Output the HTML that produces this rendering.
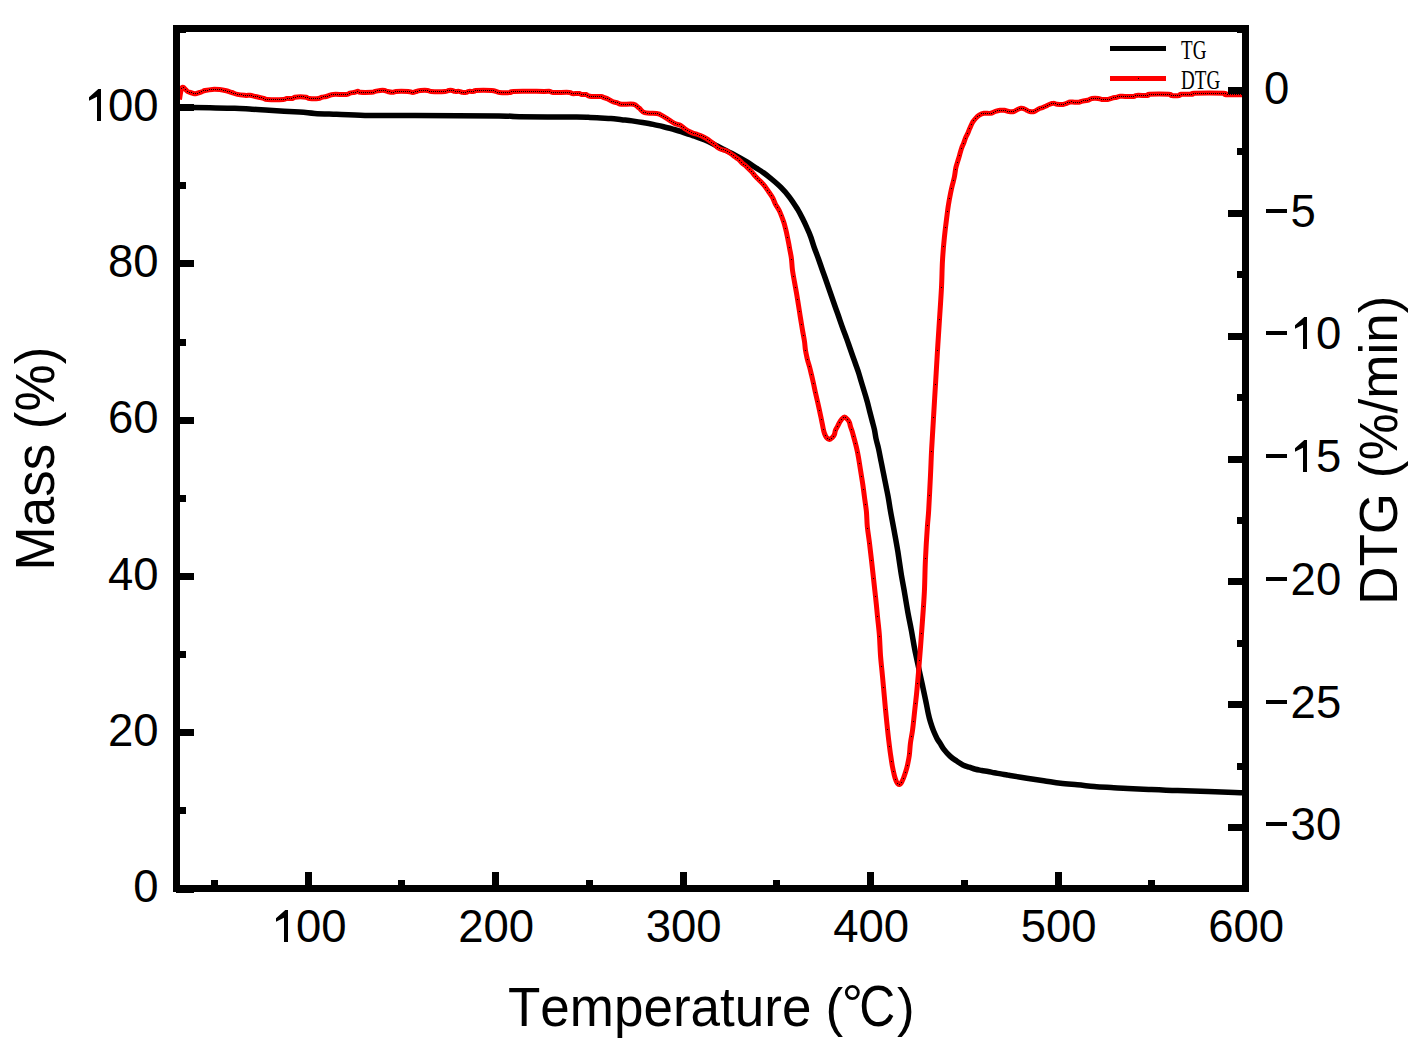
<!DOCTYPE html>
<html><head><meta charset="utf-8"><style>
html,body{margin:0;padding:0;background:#fff;}
svg{display:block;}
text{font-family:"Liberation Sans",sans-serif;fill:#000;font-kerning:none;}
</style></head><body>
<svg width="1426" height="1052" viewBox="0 0 1426 1052">
<rect width="1426" height="1052" fill="#fff"/>
<g fill="none" stroke-linejoin="round" stroke-linecap="butt">
<path d="M180.0,107.3 C182.2,107.3 188.0,107.4 193.0,107.5 C198.0,107.6 203.1,107.7 210.0,107.8 C216.9,107.9 227.7,108.0 234.7,108.2 C241.7,108.4 246.3,108.9 252.0,109.2 C257.7,109.5 261.1,109.8 269.0,110.3 C276.9,110.8 291.9,111.5 299.5,112.0 C307.1,112.5 308.5,113.0 314.7,113.4 C320.9,113.8 327.6,113.9 336.6,114.2 C345.6,114.5 358.7,115.2 368.5,115.4 C378.3,115.6 387.8,115.4 395.5,115.4 C403.2,115.4 397.8,115.5 415.0,115.6 C432.2,115.7 481.6,115.7 499.0,115.9 C516.4,116.1 506.4,116.5 519.3,116.7 C532.2,116.9 564.8,117.0 576.6,117.1 C588.4,117.2 586.0,117.2 590.0,117.4 C594.0,117.6 597.0,117.8 600.5,118.0 C604.0,118.2 607.5,118.2 611.0,118.5 C614.5,118.8 618.1,119.3 621.6,119.7 C625.1,120.1 628.6,120.4 632.1,120.9 C635.6,121.4 639.1,121.9 642.6,122.5 C646.1,123.1 649.6,123.7 653.1,124.4 C656.6,125.1 660.1,125.9 663.6,126.7 C667.1,127.5 671.3,128.7 674.2,129.5 C677.1,130.3 678.9,130.8 681.2,131.6 C683.5,132.4 686.2,133.4 688.2,134.1 C690.2,134.8 690.2,134.7 693.3,135.8 C696.4,136.9 702.1,138.9 706.6,140.8 C711.1,142.8 715.6,145.3 720.0,147.5 C724.4,149.7 728.8,151.8 733.2,154.2 C737.6,156.6 742.6,159.4 746.5,161.7 C750.4,164.0 753.6,166.3 756.5,168.2 C759.4,170.0 761.0,170.9 763.6,172.8 C766.2,174.7 769.2,177.1 772.1,179.5 C775.0,181.9 777.9,184.3 780.7,187.2 C783.6,190.1 786.4,193.1 789.2,196.8 C792.1,200.5 795.4,205.8 797.8,209.6 C800.1,213.4 801.7,216.8 803.3,219.9 C804.9,223.0 806.0,225.6 807.2,228.4 C808.5,231.2 809.6,233.7 810.8,237.0 C812.0,240.3 813.1,244.3 814.4,248.0 C815.7,251.7 817.3,255.6 818.5,259.0 C819.7,262.4 820.7,265.3 821.8,268.5 C822.9,271.7 824.1,274.8 825.2,278.0 C826.3,281.2 827.4,284.3 828.5,287.5 C829.6,290.7 830.7,293.8 831.8,297.0 C832.9,300.2 834.0,303.3 835.1,306.5 C836.2,309.7 837.4,312.8 838.5,316.0 C839.6,319.2 840.7,322.4 841.8,325.6 C842.9,328.8 844.1,331.9 845.3,335.0 C846.4,338.1 847.6,341.3 848.7,344.5 C849.8,347.7 850.9,350.8 852.0,354.0 C853.1,357.2 854.3,360.3 855.4,363.5 C856.5,366.7 857.7,369.8 858.7,373.0 C859.7,376.2 860.5,379.3 861.5,382.5 C862.5,385.7 863.4,388.8 864.4,392.0 C865.4,395.2 866.3,398.3 867.2,401.5 C868.1,404.7 868.8,407.9 869.6,411.0 C870.4,414.1 871.2,417.2 872.0,420.3 C872.8,423.4 873.7,426.4 874.4,429.5 C875.1,432.6 875.4,435.8 876.1,439.0 C876.8,442.2 877.8,445.3 878.5,448.5 C879.2,451.7 879.8,454.8 880.4,458.0 C881.0,461.2 881.7,464.3 882.3,467.5 C882.9,470.7 883.6,473.8 884.2,477.0 C884.8,480.2 885.5,483.3 886.1,486.5 C886.7,489.7 887.4,492.8 888.0,496.0 C888.6,499.2 889.1,502.4 889.6,505.6 C890.1,508.8 890.4,510.8 891.2,515.0 C892.0,519.2 893.1,524.8 894.2,530.9 C895.3,537.0 896.8,544.8 897.9,551.8 C899.0,558.8 899.9,565.7 901.0,572.7 C902.1,579.7 903.6,587.1 904.7,593.6 C905.8,600.1 906.7,605.8 907.8,612.0 C908.9,618.2 910.3,624.3 911.5,630.9 C912.7,637.5 913.5,643.1 915.2,651.8 C917.0,660.5 920.1,674.3 922.0,683.2 C923.9,692.1 925.6,699.9 926.6,705.0 C927.6,710.1 927.6,710.8 928.3,713.6 C928.9,716.5 929.6,719.2 930.5,722.1 C931.4,725.0 932.5,728.3 933.6,731.0 C934.7,733.7 935.9,736.2 937.0,738.4 C938.1,740.5 939.4,742.1 940.5,743.9 C941.6,745.7 942.3,747.3 943.9,749.4 C945.5,751.5 948.2,754.5 950.3,756.4 C952.4,758.3 954.5,759.6 956.6,761.0 C958.7,762.4 960.8,763.9 962.9,764.9 C965.0,765.9 967.1,766.5 969.2,767.2 C971.3,767.9 973.4,768.8 975.5,769.3 C977.6,769.8 979.7,770.1 981.8,770.5 C983.9,770.9 986.0,771.1 988.1,771.5 C990.2,771.9 992.3,772.4 994.4,772.8 C996.5,773.2 998.7,773.5 1000.8,773.9 C1002.9,774.3 1005.6,774.7 1007.1,775.0 C1008.6,775.3 1006.7,775.0 1010.0,775.5 C1013.3,776.0 1021.2,777.3 1026.8,778.2 C1032.4,779.1 1038.1,779.9 1043.7,780.8 C1049.3,781.6 1054.9,782.6 1060.5,783.3 C1066.1,784.0 1071.7,784.3 1077.3,784.8 C1082.9,785.3 1088.6,786.0 1094.2,786.5 C1099.8,787.0 1105.4,787.2 1111.0,787.5 C1116.6,787.8 1121.1,788.2 1127.8,788.5 C1134.5,788.8 1143.0,789.1 1151.3,789.5 C1159.6,789.9 1168.1,790.3 1177.6,790.6 C1187.1,790.9 1198.8,791.2 1208.3,791.5 C1217.8,791.8 1229.0,792.2 1234.6,792.4 C1240.2,792.6 1240.8,792.7 1242.0,792.7" stroke="#000" stroke-width="5.5"/>
<path d="M179.5,99.5 C179.8,97.7 180.8,90.5 181.5,88.5 C182.2,86.5 182.8,87.3 183.5,87.5 C184.2,87.7 184.8,88.8 185.5,89.5 C186.2,90.2 186.7,91.0 187.5,91.5 C188.3,92.0 189.5,92.2 190.5,92.5 C191.5,92.8 192.5,93.3 193.5,93.5 C194.5,93.7 195.5,93.7 196.5,93.5 C197.5,93.3 198.5,92.8 199.5,92.5 C200.5,92.2 201.6,91.8 202.5,91.5 C203.4,91.2 203.4,90.8 205.0,90.5 C206.6,90.2 209.9,89.6 212.3,89.4 C214.7,89.2 217.3,89.4 219.6,89.6 C221.9,89.8 224.2,90.3 226.3,90.8 C228.4,91.3 230.0,91.9 231.9,92.5 C233.8,93.1 235.2,93.9 237.5,94.4 C239.8,94.9 243.8,95.2 245.9,95.4 C248.0,95.6 248.4,95.1 250.0,95.3 C251.6,95.5 253.6,96.1 255.3,96.5 C257.1,96.9 259.1,97.3 260.5,97.6 C261.9,97.9 262.8,98.2 264.0,98.5 C265.2,98.8 264.3,99.2 267.5,99.4 C270.7,99.6 280.1,99.6 283.3,99.4 C286.5,99.2 285.3,98.7 286.8,98.5 C288.3,98.3 290.8,98.7 292.1,98.5 C293.4,98.3 293.3,97.6 294.7,97.3 C296.1,97.0 298.5,96.7 300.4,96.7 C302.3,96.7 304.6,97.0 306.1,97.3 C307.6,97.6 307.6,98.3 309.6,98.5 C311.7,98.7 316.3,98.7 318.4,98.5 C320.4,98.3 320.6,97.6 321.9,97.3 C323.2,97.0 324.9,96.8 326.2,96.5 C327.5,96.2 328.6,95.6 329.8,95.3 C331.0,95.0 330.5,94.6 333.3,94.4 C336.1,94.2 343.6,94.6 346.4,94.4 C349.2,94.2 348.5,93.6 349.9,93.2 C351.3,92.8 353.4,92.6 354.7,92.3 C356.0,92.0 356.9,91.2 357.8,91.2 C358.8,91.2 358.1,92.1 360.4,92.3 C362.7,92.5 369.4,92.4 371.8,92.3 C374.2,92.2 373.6,91.7 375.0,91.4 C376.4,91.1 378.7,90.7 380.3,90.5 C381.9,90.3 383.4,90.3 384.6,90.5 C385.8,90.7 386.0,91.1 387.3,91.4 C388.6,91.7 391.1,92.3 392.5,92.3 C393.9,92.3 394.5,91.6 396.0,91.4 C397.5,91.2 399.2,91.2 401.3,91.2 C403.4,91.2 406.4,91.2 408.3,91.4 C410.2,91.6 411.2,92.4 412.7,92.4 C414.2,92.4 415.8,91.5 417.1,91.2 C418.4,90.9 418.9,90.6 420.6,90.5 C422.4,90.4 425.9,90.3 427.6,90.5 C429.4,90.7 428.2,91.2 431.1,91.4 C434.0,91.6 442.2,91.6 445.1,91.4 C448.0,91.2 447.4,90.7 448.6,90.5 C449.8,90.3 451.1,90.3 452.1,90.5 C453.1,90.7 453.6,91.2 454.8,91.4 C456.0,91.6 457.8,91.2 459.1,91.4 C460.4,91.6 461.4,92.2 462.6,92.4 C463.8,92.6 465.1,92.6 466.1,92.4 C467.1,92.2 467.5,91.6 468.8,91.4 C470.1,91.2 472.8,91.6 474.0,91.4 C475.2,91.2 472.9,90.7 475.8,90.5 C478.7,90.3 488.2,90.3 491.6,90.5 C495.0,90.7 494.7,91.1 496.0,91.4 C497.3,91.7 496.9,92.2 499.4,92.4 C501.9,92.6 508.5,92.6 510.8,92.4 C513.1,92.2 507.8,91.6 513.4,91.4 C518.9,91.2 538.0,91.4 544.1,91.4 C550.2,91.4 548.8,91.2 550.2,91.4 C551.7,91.6 549.6,92.2 552.8,92.4 C556.0,92.6 566.3,92.2 569.5,92.4 C572.7,92.6 570.5,93.4 572.1,93.6 C573.7,93.8 577.5,93.4 579.1,93.6 C580.7,93.8 580.6,94.3 581.8,94.5 C583.0,94.7 585.1,94.3 586.1,94.5 C587.1,94.7 587.0,95.3 587.9,95.6 C588.8,95.9 589.2,96.3 591.4,96.5 C593.6,96.7 599.0,96.3 601.0,96.5 C603.0,96.7 602.7,97.2 603.7,97.5 C604.7,97.8 606.0,98.1 607.2,98.6 C608.4,99.1 609.7,100.0 610.7,100.6 C611.7,101.1 612.3,101.6 613.3,101.9 C614.3,102.2 615.4,102.2 616.8,102.6 C618.2,103.0 618.8,104.0 621.6,104.3 C624.4,104.6 630.6,103.7 633.5,104.3 C636.4,104.9 637.2,106.7 639.1,108.1 C641.0,109.5 641.8,111.8 644.7,112.7 C647.6,113.6 654.0,113.1 656.6,113.4 C659.2,113.7 658.4,113.6 660.1,114.5 C661.9,115.4 664.8,117.2 667.1,118.7 C669.5,120.2 672.0,122.1 674.2,123.2 C676.4,124.3 678.5,124.4 680.3,125.3 C682.0,126.2 683.2,127.6 684.7,128.6 C686.2,129.6 687.8,130.7 689.3,131.5 C690.8,132.3 692.2,132.8 693.6,133.3 C695.0,133.8 696.1,134.0 697.6,134.5 C699.1,135.0 701.1,135.7 702.6,136.4 C704.1,137.1 705.3,137.8 706.6,138.6 C707.9,139.4 709.3,140.5 710.6,141.5 C711.9,142.5 713.4,143.4 714.6,144.4 C715.8,145.4 716.4,146.7 717.6,147.5 C718.8,148.3 720.3,149.0 721.6,149.5 C722.9,150.0 724.1,149.9 725.6,150.6 C727.1,151.3 729.1,152.5 730.6,153.5 C732.1,154.5 733.3,155.6 734.6,156.6 C735.9,157.6 737.3,158.3 738.6,159.4 C739.9,160.5 741.2,162.2 742.5,163.4 C743.8,164.6 745.0,165.2 746.5,166.6 C748.0,168.0 750.0,170.0 751.5,171.6 C753.0,173.2 754.1,174.8 755.5,176.4 C756.9,178.0 758.6,179.4 760.1,181.0 C761.6,182.6 763.0,183.9 764.4,185.7 C765.8,187.4 767.1,189.5 768.5,191.5 C769.9,193.5 771.3,195.4 772.5,197.5 C773.7,199.6 774.3,202.0 775.5,204.3 C776.7,206.6 778.3,208.5 779.6,211.3 C780.9,214.2 782.5,218.6 783.5,221.4 C784.5,224.2 784.8,225.7 785.5,228.4 C786.2,231.1 786.9,234.2 787.5,237.4 C788.1,240.6 788.8,243.8 789.4,247.3 C790.0,250.8 790.9,254.6 791.4,258.3 C791.9,262.0 791.9,265.6 792.4,269.5 C792.9,273.4 793.7,277.7 794.4,281.5 C795.1,285.3 795.7,288.5 796.4,292.5 C797.1,296.5 797.8,301.2 798.5,305.4 C799.2,309.6 799.7,313.4 800.4,317.5 C801.1,321.6 801.8,326.3 802.5,330.3 C803.2,334.3 804.0,338.1 804.5,341.5 C805.0,344.9 805.0,347.4 805.5,350.4 C806.0,353.4 806.8,356.8 807.4,359.5 C808.0,362.2 808.7,363.9 809.4,366.4 C810.1,368.9 810.7,371.5 811.4,374.4 C812.1,377.2 812.8,380.5 813.5,383.5 C814.2,386.5 814.7,389.5 815.4,392.5 C816.1,395.5 816.8,398.5 817.5,401.5 C818.2,404.5 818.9,407.6 819.5,410.6 C820.1,413.6 820.8,416.6 821.4,419.4 C822.0,422.2 822.5,425.1 823.0,427.5 C823.5,429.9 823.9,431.9 824.5,433.5 C825.1,435.1 825.6,436.4 826.4,437.4 C827.2,438.4 828.3,439.5 829.3,439.5 C830.3,439.5 831.5,438.2 832.4,437.4 C833.3,436.5 834.0,435.5 834.5,434.4 C835.0,433.2 834.9,431.8 835.4,430.5 C835.9,429.2 836.8,427.9 837.5,426.5 C838.2,425.1 838.8,423.6 839.5,422.4 C840.2,421.2 840.8,420.3 841.6,419.4 C842.4,418.5 843.5,417.0 844.5,417.0 C845.5,417.0 846.7,418.5 847.5,419.4 C848.3,420.3 848.9,421.2 849.4,422.4 C849.9,423.6 850.0,424.8 850.5,426.5 C851.0,428.2 851.9,430.2 852.5,432.4 C853.1,434.6 853.7,437.0 854.4,439.5 C855.1,442.0 855.8,444.6 856.5,447.6 C857.2,450.6 857.9,453.9 858.5,457.5 C859.1,461.1 859.7,465.2 860.4,469.4 C861.1,473.6 861.8,478.0 862.5,482.5 C863.2,487.0 863.8,491.7 864.4,496.5 C865.0,501.3 865.9,506.5 866.4,511.5 C866.9,516.5 866.8,521.4 867.3,526.5 C867.8,531.6 868.7,536.9 869.4,542.4 C870.1,547.9 870.7,553.6 871.4,559.4 C872.1,565.2 872.7,571.2 873.4,577.4 C874.1,583.6 874.8,590.1 875.5,596.5 C876.2,602.9 876.8,609.0 877.4,615.5 C878.0,622.0 878.9,628.7 879.4,635.4 C879.9,642.1 880.0,648.7 880.5,655.5 C881.0,662.3 881.9,669.4 882.5,676.4 C883.1,683.4 883.8,690.3 884.4,697.3 C885.0,704.3 885.7,711.8 886.4,718.5 C887.1,725.2 887.7,731.7 888.4,737.5 C889.1,743.3 889.7,748.7 890.4,753.5 C891.1,758.3 891.7,762.7 892.4,766.4 C893.1,770.1 893.8,773.1 894.4,775.6 C895.0,778.1 895.8,780.1 896.3,781.4 C896.8,782.7 897.0,782.9 897.5,783.4 C898.0,783.9 898.9,784.7 899.5,784.6 C900.1,784.5 900.8,783.6 901.4,782.6 C902.0,781.6 902.7,780.1 903.4,778.4 C904.1,776.7 904.7,774.8 905.4,772.6 C906.1,770.5 906.8,768.4 907.4,765.5 C908.0,762.6 908.8,759.2 909.3,755.5 C909.8,751.8 909.9,747.7 910.4,743.5 C910.9,739.3 911.8,735.5 912.5,730.5 C913.2,725.5 913.8,719.4 914.4,713.5 C915.0,707.6 915.7,702.1 916.4,695.4 C917.1,688.7 917.7,681.3 918.4,673.5 C919.1,665.7 919.7,657.2 920.4,648.5 C921.1,639.8 921.7,631.0 922.4,621.5 C923.1,612.0 923.9,601.5 924.4,591.3 C924.9,581.1 924.9,571.3 925.4,560.5 C925.9,549.7 926.8,534.9 927.4,526.5 C928.0,518.1 928.2,518.6 928.7,510.0 C929.2,501.4 930.0,485.0 930.5,475.0 C931.0,465.0 931.1,459.2 931.6,450.0 C932.1,440.8 932.8,430.4 933.4,419.5 C934.0,408.6 934.8,395.9 935.5,384.4 C936.2,372.9 936.8,361.5 937.5,350.4 C938.2,339.3 938.9,328.1 939.6,317.6 C940.3,307.1 941.0,296.9 941.5,287.3 C942.0,277.8 942.0,268.6 942.5,260.3 C943.0,252.0 943.7,244.1 944.4,237.3 C945.1,230.5 945.8,224.8 946.5,219.4 C947.2,214.0 947.7,209.4 948.4,205.1 C949.1,200.8 949.8,197.0 950.5,193.5 C951.2,190.0 951.9,187.0 952.6,184.2 C953.3,181.3 954.0,179.1 954.5,176.4 C955.0,173.7 955.3,170.6 955.8,168.1 C956.3,165.6 957.1,163.6 957.7,161.4 C958.3,159.2 959.0,157.2 959.6,155.1 C960.2,152.9 960.8,150.5 961.5,148.5 C962.2,146.5 962.9,145.1 963.6,143.3 C964.3,141.6 964.8,139.7 965.5,138.0 C966.2,136.3 967.1,134.9 967.8,133.3 C968.5,131.7 968.9,130.3 969.7,128.5 C970.5,126.7 971.5,124.1 972.5,122.4 C973.5,120.8 974.3,119.8 975.4,118.6 C976.5,117.4 977.8,116.1 979.2,115.2 C980.6,114.3 982.0,113.6 983.9,113.3 C985.8,113.0 988.7,113.6 990.6,113.3 C992.5,113.0 993.7,111.9 995.3,111.4 C996.9,110.9 998.5,110.5 1000.0,110.3 C1001.5,110.1 1002.9,110.1 1004.4,110.3 C1005.9,110.5 1007.2,111.3 1008.8,111.5 C1010.4,111.7 1012.5,111.8 1014.0,111.5 C1015.5,111.2 1016.3,110.0 1017.5,109.5 C1018.7,109.0 1020.0,108.5 1021.0,108.3 C1022.0,108.1 1022.8,108.3 1023.7,108.6 C1024.6,108.9 1025.3,109.4 1026.3,109.9 C1027.3,110.4 1028.5,111.2 1029.8,111.5 C1031.1,111.8 1032.7,111.9 1034.2,111.5 C1035.7,111.1 1037.3,109.6 1038.6,109.0 C1039.9,108.4 1040.9,108.2 1042.1,107.7 C1043.3,107.2 1044.4,106.7 1045.6,106.2 C1046.8,105.7 1047.8,105.0 1049.1,104.5 C1050.4,104.0 1052.2,103.3 1053.5,103.3 C1054.8,103.2 1055.4,104.0 1057.0,104.2 C1058.6,104.4 1061.5,104.7 1063.1,104.5 C1064.7,104.3 1065.4,103.7 1066.6,103.3 C1067.8,102.9 1068.8,102.2 1070.1,102.0 C1071.4,101.8 1073.0,102.2 1074.5,102.2 C1076.0,102.2 1077.6,102.4 1078.9,102.2 C1080.2,102.0 1081.0,101.4 1082.4,101.1 C1083.9,100.8 1086.0,100.7 1087.6,100.3 C1089.2,99.9 1090.2,98.8 1092.0,98.5 C1093.8,98.2 1096.6,98.3 1098.2,98.5 C1099.8,98.7 1100.1,99.2 1101.7,99.4 C1103.3,99.6 1106.0,99.6 1107.8,99.4 C1109.5,99.2 1110.7,98.5 1112.2,98.1 C1113.7,97.7 1115.3,97.5 1116.6,97.2 C1117.9,96.9 1118.7,96.4 1120.1,96.3 C1121.5,96.2 1122.7,96.4 1125.0,96.4 C1127.3,96.4 1131.9,96.6 1133.8,96.4 C1135.7,96.2 1134.1,95.6 1136.4,95.4 C1138.7,95.2 1145.6,95.6 1147.8,95.4 C1150.0,95.2 1146.0,94.4 1149.5,94.2 C1153.0,94.0 1165.1,94.0 1168.8,94.2 C1172.5,94.4 1169.8,95.2 1171.5,95.4 C1173.2,95.6 1177.7,95.6 1179.3,95.4 C1180.9,95.2 1178.9,94.4 1181.1,94.2 C1183.3,94.0 1190.3,94.4 1192.5,94.2 C1194.7,94.0 1189.0,93.5 1194.2,93.3 C1199.5,93.1 1218.7,93.1 1224.0,93.3 C1229.3,93.5 1222.8,94.5 1225.8,94.7 C1228.8,94.9 1239.3,94.7 1242.0,94.7" stroke="#f00" stroke-width="5.0"/>
</g>
<g fill="#000"><rect x="181" y="88" width="1" height="1"/><rect x="183" y="87" width="1" height="1"/><rect x="185" y="89" width="1" height="1"/><rect x="187" y="91" width="1" height="1"/><rect x="189" y="92" width="1" height="1"/><rect x="191" y="92" width="1" height="1"/><rect x="193" y="93" width="1" height="1"/><rect x="195" y="93" width="1" height="1"/><rect x="197" y="93" width="1" height="1"/><rect x="199" y="92" width="1" height="1"/><rect x="201" y="91" width="1" height="1"/><rect x="203" y="90" width="1" height="1"/><rect x="205" y="90" width="1" height="1"/><rect x="207" y="90" width="1" height="1"/><rect x="209" y="89" width="1" height="1"/><rect x="211" y="89" width="1" height="1"/><rect x="213" y="89" width="1" height="1"/><rect x="215" y="89" width="1" height="1"/><rect x="217" y="89" width="1" height="1"/><rect x="219" y="89" width="1" height="1"/><rect x="221" y="89" width="1" height="1"/><rect x="223" y="90" width="1" height="1"/><rect x="225" y="90" width="1" height="1"/><rect x="227" y="91" width="1" height="1"/><rect x="229" y="91" width="1" height="1"/><rect x="231" y="92" width="1" height="1"/><rect x="233" y="93" width="1" height="1"/><rect x="235" y="93" width="1" height="1"/><rect x="237" y="94" width="1" height="1"/><rect x="239" y="94" width="1" height="1"/><rect x="241" y="94" width="1" height="1"/><rect x="243" y="95" width="1" height="1"/><rect x="245" y="95" width="1" height="1"/><rect x="247" y="95" width="1" height="1"/><rect x="249" y="95" width="1" height="1"/><rect x="251" y="95" width="1" height="1"/><rect x="253" y="96" width="1" height="1"/><rect x="255" y="96" width="1" height="1"/><rect x="257" y="96" width="1" height="1"/><rect x="259" y="97" width="1" height="1"/><rect x="261" y="97" width="1" height="1"/><rect x="263" y="98" width="1" height="1"/><rect x="265" y="99" width="1" height="1"/><rect x="267" y="99" width="1" height="1"/><rect x="269" y="99" width="1" height="1"/><rect x="271" y="99" width="1" height="1"/><rect x="273" y="99" width="1" height="1"/><rect x="275" y="99" width="1" height="1"/><rect x="277" y="99" width="1" height="1"/><rect x="279" y="99" width="1" height="1"/><rect x="281" y="99" width="1" height="1"/><rect x="283" y="99" width="1" height="1"/><rect x="285" y="99" width="1" height="1"/><rect x="287" y="98" width="1" height="1"/><rect x="289" y="98" width="1" height="1"/><rect x="291" y="98" width="1" height="1"/><rect x="293" y="97" width="1" height="1"/><rect x="295" y="97" width="1" height="1"/><rect x="297" y="96" width="1" height="1"/><rect x="299" y="96" width="1" height="1"/><rect x="301" y="96" width="1" height="1"/><rect x="303" y="96" width="1" height="1"/><rect x="305" y="97" width="1" height="1"/><rect x="307" y="97" width="1" height="1"/><rect x="309" y="98" width="1" height="1"/><rect x="311" y="98" width="1" height="1"/><rect x="313" y="98" width="1" height="1"/><rect x="315" y="98" width="1" height="1"/><rect x="317" y="98" width="1" height="1"/><rect x="319" y="98" width="1" height="1"/><rect x="321" y="97" width="1" height="1"/><rect x="323" y="96" width="1" height="1"/><rect x="325" y="96" width="1" height="1"/><rect x="327" y="96" width="1" height="1"/><rect x="329" y="95" width="1" height="1"/><rect x="331" y="94" width="1" height="1"/><rect x="333" y="94" width="1" height="1"/><rect x="335" y="94" width="1" height="1"/><rect x="337" y="94" width="1" height="1"/><rect x="339" y="94" width="1" height="1"/><rect x="341" y="94" width="1" height="1"/><rect x="343" y="94" width="1" height="1"/><rect x="345" y="94" width="1" height="1"/><rect x="347" y="94" width="1" height="1"/><rect x="349" y="93" width="1" height="1"/><rect x="351" y="92" width="1" height="1"/><rect x="353" y="92" width="1" height="1"/><rect x="355" y="92" width="1" height="1"/><rect x="357" y="91" width="1" height="1"/><rect x="359" y="92" width="1" height="1"/><rect x="361" y="92" width="1" height="1"/><rect x="363" y="92" width="1" height="1"/><rect x="365" y="92" width="1" height="1"/><rect x="367" y="92" width="1" height="1"/><rect x="369" y="92" width="1" height="1"/><rect x="371" y="92" width="1" height="1"/><rect x="373" y="92" width="1" height="1"/><rect x="375" y="91" width="1" height="1"/><rect x="377" y="90" width="1" height="1"/><rect x="379" y="90" width="1" height="1"/><rect x="381" y="90" width="1" height="1"/><rect x="383" y="90" width="1" height="1"/><rect x="385" y="90" width="1" height="1"/><rect x="387" y="91" width="1" height="1"/><rect x="389" y="91" width="1" height="1"/><rect x="391" y="92" width="1" height="1"/><rect x="393" y="92" width="1" height="1"/><rect x="395" y="91" width="1" height="1"/><rect x="397" y="91" width="1" height="1"/><rect x="399" y="91" width="1" height="1"/><rect x="401" y="91" width="1" height="1"/><rect x="403" y="91" width="1" height="1"/><rect x="405" y="91" width="1" height="1"/><rect x="407" y="91" width="1" height="1"/><rect x="409" y="91" width="1" height="1"/><rect x="411" y="92" width="1" height="1"/><rect x="413" y="92" width="1" height="1"/><rect x="415" y="91" width="1" height="1"/><rect x="417" y="91" width="1" height="1"/><rect x="419" y="90" width="1" height="1"/><rect x="421" y="90" width="1" height="1"/><rect x="423" y="90" width="1" height="1"/><rect x="425" y="90" width="1" height="1"/><rect x="427" y="90" width="1" height="1"/><rect x="429" y="91" width="1" height="1"/><rect x="431" y="91" width="1" height="1"/><rect x="433" y="91" width="1" height="1"/><rect x="435" y="91" width="1" height="1"/><rect x="437" y="91" width="1" height="1"/><rect x="439" y="91" width="1" height="1"/><rect x="441" y="91" width="1" height="1"/><rect x="443" y="91" width="1" height="1"/><rect x="445" y="91" width="1" height="1"/><rect x="447" y="90" width="1" height="1"/><rect x="449" y="90" width="1" height="1"/><rect x="451" y="90" width="1" height="1"/><rect x="453" y="90" width="1" height="1"/><rect x="455" y="91" width="1" height="1"/><rect x="457" y="91" width="1" height="1"/><rect x="459" y="91" width="1" height="1"/><rect x="461" y="92" width="1" height="1"/><rect x="463" y="92" width="1" height="1"/><rect x="465" y="92" width="1" height="1"/><rect x="467" y="91" width="1" height="1"/><rect x="469" y="91" width="1" height="1"/><rect x="471" y="91" width="1" height="1"/><rect x="473" y="91" width="1" height="1"/><rect x="475" y="90" width="1" height="1"/><rect x="477" y="90" width="1" height="1"/><rect x="479" y="90" width="1" height="1"/><rect x="481" y="90" width="1" height="1"/><rect x="483" y="90" width="1" height="1"/><rect x="485" y="90" width="1" height="1"/><rect x="487" y="90" width="1" height="1"/><rect x="489" y="90" width="1" height="1"/><rect x="491" y="90" width="1" height="1"/><rect x="493" y="90" width="1" height="1"/><rect x="495" y="91" width="1" height="1"/><rect x="497" y="92" width="1" height="1"/><rect x="499" y="92" width="1" height="1"/><rect x="501" y="92" width="1" height="1"/><rect x="503" y="92" width="1" height="1"/><rect x="505" y="92" width="1" height="1"/><rect x="507" y="92" width="1" height="1"/><rect x="509" y="92" width="1" height="1"/><rect x="511" y="91" width="1" height="1"/><rect x="513" y="91" width="1" height="1"/><rect x="515" y="91" width="1" height="1"/><rect x="517" y="91" width="1" height="1"/><rect x="519" y="91" width="1" height="1"/><rect x="521" y="91" width="1" height="1"/><rect x="523" y="91" width="1" height="1"/><rect x="525" y="91" width="1" height="1"/><rect x="527" y="91" width="1" height="1"/><rect x="529" y="91" width="1" height="1"/><rect x="531" y="91" width="1" height="1"/><rect x="533" y="91" width="1" height="1"/><rect x="535" y="91" width="1" height="1"/><rect x="537" y="91" width="1" height="1"/><rect x="539" y="91" width="1" height="1"/><rect x="541" y="91" width="1" height="1"/><rect x="543" y="91" width="1" height="1"/><rect x="545" y="91" width="1" height="1"/><rect x="547" y="91" width="1" height="1"/><rect x="549" y="91" width="1" height="1"/><rect x="551" y="92" width="1" height="1"/><rect x="553" y="92" width="1" height="1"/><rect x="555" y="92" width="1" height="1"/><rect x="557" y="92" width="1" height="1"/><rect x="559" y="92" width="1" height="1"/><rect x="561" y="92" width="1" height="1"/><rect x="563" y="92" width="1" height="1"/><rect x="565" y="92" width="1" height="1"/><rect x="567" y="92" width="1" height="1"/><rect x="569" y="92" width="1" height="1"/><rect x="571" y="93" width="1" height="1"/><rect x="573" y="93" width="1" height="1"/><rect x="575" y="93" width="1" height="1"/><rect x="577" y="93" width="1" height="1"/><rect x="579" y="93" width="1" height="1"/><rect x="581" y="94" width="1" height="1"/><rect x="583" y="94" width="1" height="1"/><rect x="585" y="94" width="1" height="1"/><rect x="587" y="95" width="1" height="1"/><rect x="589" y="96" width="1" height="1"/><rect x="591" y="96" width="1" height="1"/><rect x="593" y="96" width="1" height="1"/><rect x="595" y="96" width="1" height="1"/><rect x="597" y="96" width="1" height="1"/><rect x="599" y="96" width="1" height="1"/><rect x="601" y="96" width="1" height="1"/><rect x="603" y="97" width="1" height="1"/><rect x="605" y="98" width="1" height="1"/><rect x="607" y="98" width="1" height="1"/><rect x="609" y="99" width="1" height="1"/><rect x="611" y="101" width="1" height="1"/><rect x="613" y="101" width="1" height="1"/><rect x="615" y="102" width="1" height="1"/><rect x="617" y="102" width="1" height="1"/><rect x="619" y="103" width="1" height="1"/><rect x="621" y="104" width="1" height="1"/><rect x="623" y="104" width="1" height="1"/><rect x="625" y="104" width="1" height="1"/><rect x="627" y="104" width="1" height="1"/><rect x="629" y="104" width="1" height="1"/><rect x="631" y="104" width="1" height="1"/><rect x="633" y="104" width="1" height="1"/><rect x="635" y="105" width="1" height="1"/><rect x="637" y="106" width="1" height="1"/><rect x="639" y="108" width="1" height="1"/><rect x="641" y="110" width="1" height="1"/><rect x="643" y="112" width="1" height="1"/><rect x="645" y="112" width="1" height="1"/><rect x="647" y="113" width="1" height="1"/><rect x="649" y="113" width="1" height="1"/><rect x="651" y="113" width="1" height="1"/><rect x="653" y="113" width="1" height="1"/><rect x="655" y="113" width="1" height="1"/><rect x="657" y="113" width="1" height="1"/><rect x="659" y="114" width="1" height="1"/><rect x="661" y="115" width="1" height="1"/><rect x="663" y="116" width="1" height="1"/><rect x="665" y="117" width="1" height="1"/><rect x="667" y="118" width="1" height="1"/><rect x="669" y="120" width="1" height="1"/><rect x="671" y="121" width="1" height="1"/><rect x="673" y="122" width="1" height="1"/><rect x="675" y="123" width="1" height="1"/><rect x="677" y="124" width="1" height="1"/><rect x="679" y="124" width="1" height="1"/><rect x="681" y="126" width="1" height="1"/><rect x="683" y="127" width="1" height="1"/><rect x="685" y="129" width="1" height="1"/><rect x="687" y="130" width="1" height="1"/><rect x="689" y="131" width="1" height="1"/><rect x="691" y="132" width="1" height="1"/><rect x="693" y="133" width="1" height="1"/><rect x="695" y="133" width="1" height="1"/><rect x="697" y="134" width="1" height="1"/><rect x="699" y="135" width="1" height="1"/><rect x="701" y="135" width="1" height="1"/><rect x="703" y="136" width="1" height="1"/><rect x="705" y="137" width="1" height="1"/><rect x="707" y="139" width="1" height="1"/><rect x="709" y="140" width="1" height="1"/><rect x="711" y="142" width="1" height="1"/><rect x="713" y="143" width="1" height="1"/><rect x="715" y="145" width="1" height="1"/><rect x="717" y="147" width="1" height="1"/><rect x="719" y="148" width="1" height="1"/><rect x="721" y="149" width="1" height="1"/><rect x="723" y="149" width="1" height="1"/><rect x="725" y="150" width="1" height="1"/><rect x="727" y="151" width="1" height="1"/><rect x="729" y="152" width="1" height="1"/><rect x="731" y="154" width="1" height="1"/><rect x="733" y="155" width="1" height="1"/><rect x="735" y="157" width="1" height="1"/><rect x="737" y="158" width="1" height="1"/><rect x="739" y="160" width="1" height="1"/><rect x="741" y="162" width="1" height="1"/><rect x="743" y="164" width="1" height="1"/><rect x="745" y="165" width="1" height="1"/><rect x="747" y="167" width="1" height="1"/><rect x="749" y="169" width="1" height="1"/><rect x="751" y="171" width="1" height="1"/><rect x="753" y="173" width="1" height="1"/><rect x="755" y="176" width="1" height="1"/><rect x="757" y="178" width="1" height="1"/><rect x="759" y="180" width="1" height="1"/><rect x="761" y="182" width="1" height="1"/><rect x="763" y="184" width="1" height="1"/><rect x="765" y="187" width="1" height="1"/><rect x="767" y="190" width="1" height="1"/><rect x="769" y="192" width="1" height="1"/><rect x="771" y="195" width="1" height="1"/><rect x="773" y="199" width="1" height="1"/><rect x="775" y="204" width="1" height="1"/><rect x="777" y="207" width="1" height="1"/><rect x="779" y="211" width="1" height="1"/><rect x="781" y="215" width="1" height="1"/><rect x="783" y="221" width="1" height="1"/><rect x="785" y="228" width="1" height="1"/><rect x="787" y="237" width="1" height="1"/><rect x="789" y="247" width="1" height="1"/><rect x="791" y="259" width="1" height="1"/><rect x="793" y="276" width="1" height="1"/><rect x="795" y="287" width="1" height="1"/><rect x="797" y="299" width="1" height="1"/><rect x="799" y="311" width="1" height="1"/><rect x="801" y="324" width="1" height="1"/><rect x="803" y="335" width="1" height="1"/><rect x="805" y="350" width="1" height="1"/><rect x="807" y="359" width="1" height="1"/><rect x="809" y="366" width="1" height="1"/><rect x="811" y="374" width="1" height="1"/><rect x="813" y="383" width="1" height="1"/><rect x="815" y="392" width="1" height="1"/><rect x="817" y="401" width="1" height="1"/><rect x="819" y="410" width="1" height="1"/><rect x="821" y="419" width="1" height="1"/><rect x="823" y="429" width="1" height="1"/><rect x="825" y="435" width="1" height="1"/><rect x="827" y="438" width="1" height="1"/><rect x="829" y="439" width="1" height="1"/><rect x="831" y="438" width="1" height="1"/><rect x="833" y="436" width="1" height="1"/><rect x="835" y="430" width="1" height="1"/><rect x="837" y="426" width="1" height="1"/><rect x="839" y="422" width="1" height="1"/><rect x="841" y="419" width="1" height="1"/><rect x="843" y="417" width="1" height="1"/><rect x="845" y="417" width="1" height="1"/><rect x="847" y="419" width="1" height="1"/><rect x="849" y="422" width="1" height="1"/><rect x="851" y="429" width="1" height="1"/><rect x="853" y="436" width="1" height="1"/><rect x="855" y="443" width="1" height="1"/><rect x="857" y="452" width="1" height="1"/><rect x="859" y="463" width="1" height="1"/><rect x="861" y="476" width="1" height="1"/><rect x="863" y="489" width="1" height="1"/><rect x="865" y="504" width="1" height="1"/><rect x="867" y="528" width="1" height="1"/><rect x="869" y="543" width="1" height="1"/><rect x="871" y="560" width="1" height="1"/><rect x="873" y="578" width="1" height="1"/><rect x="875" y="596" width="1" height="1"/><rect x="877" y="616" width="1" height="1"/><rect x="879" y="636" width="1" height="1"/><rect x="881" y="666" width="1" height="1"/><rect x="883" y="687" width="1" height="1"/><rect x="885" y="709" width="1" height="1"/><rect x="887" y="729" width="1" height="1"/><rect x="889" y="746" width="1" height="1"/><rect x="891" y="761" width="1" height="1"/><rect x="893" y="771" width="1" height="1"/><rect x="895" y="779" width="1" height="1"/><rect x="897" y="783" width="1" height="1"/><rect x="899" y="784" width="1" height="1"/><rect x="901" y="782" width="1" height="1"/><rect x="903" y="778" width="1" height="1"/><rect x="905" y="772" width="1" height="1"/><rect x="907" y="765" width="1" height="1"/><rect x="909" y="753" width="1" height="1"/><rect x="911" y="736" width="1" height="1"/><rect x="913" y="721" width="1" height="1"/><rect x="915" y="703" width="1" height="1"/><rect x="917" y="683" width="1" height="1"/><rect x="919" y="660" width="1" height="1"/><rect x="921" y="633" width="1" height="1"/><rect x="923" y="606" width="1" height="1"/><rect x="925" y="558" width="1" height="1"/><rect x="927" y="525" width="1" height="1"/><rect x="929" y="495" width="1" height="1"/><rect x="931" y="451" width="1" height="1"/><rect x="933" y="417" width="1" height="1"/><rect x="935" y="384" width="1" height="1"/><rect x="937" y="350" width="1" height="1"/><rect x="939" y="319" width="1" height="1"/><rect x="941" y="287" width="1" height="1"/><rect x="943" y="246" width="1" height="1"/><rect x="945" y="227" width="1" height="1"/><rect x="947" y="211" width="1" height="1"/><rect x="949" y="198" width="1" height="1"/><rect x="951" y="188" width="1" height="1"/><rect x="953" y="180" width="1" height="1"/><rect x="955" y="169" width="1" height="1"/><rect x="957" y="162" width="1" height="1"/><rect x="959" y="155" width="1" height="1"/><rect x="961" y="148" width="1" height="1"/><rect x="963" y="143" width="1" height="1"/><rect x="965" y="138" width="1" height="1"/><rect x="967" y="133" width="1" height="1"/><rect x="969" y="128" width="1" height="1"/><rect x="971" y="124" width="1" height="1"/><rect x="973" y="120" width="1" height="1"/><rect x="975" y="118" width="1" height="1"/><rect x="977" y="116" width="1" height="1"/><rect x="979" y="115" width="1" height="1"/><rect x="981" y="113" width="1" height="1"/><rect x="983" y="113" width="1" height="1"/><rect x="985" y="113" width="1" height="1"/><rect x="987" y="113" width="1" height="1"/><rect x="989" y="113" width="1" height="1"/><rect x="991" y="113" width="1" height="1"/><rect x="993" y="112" width="1" height="1"/><rect x="995" y="111" width="1" height="1"/><rect x="997" y="110" width="1" height="1"/><rect x="999" y="110" width="1" height="1"/><rect x="1001" y="110" width="1" height="1"/><rect x="1003" y="110" width="1" height="1"/><rect x="1005" y="110" width="1" height="1"/><rect x="1007" y="111" width="1" height="1"/><rect x="1009" y="111" width="1" height="1"/><rect x="1011" y="111" width="1" height="1"/><rect x="1013" y="111" width="1" height="1"/><rect x="1015" y="110" width="1" height="1"/><rect x="1017" y="109" width="1" height="1"/><rect x="1019" y="108" width="1" height="1"/><rect x="1021" y="108" width="1" height="1"/><rect x="1023" y="108" width="1" height="1"/><rect x="1025" y="109" width="1" height="1"/><rect x="1027" y="110" width="1" height="1"/><rect x="1029" y="111" width="1" height="1"/><rect x="1031" y="111" width="1" height="1"/><rect x="1033" y="111" width="1" height="1"/><rect x="1035" y="110" width="1" height="1"/><rect x="1037" y="109" width="1" height="1"/><rect x="1039" y="108" width="1" height="1"/><rect x="1041" y="107" width="1" height="1"/><rect x="1043" y="107" width="1" height="1"/><rect x="1045" y="106" width="1" height="1"/><rect x="1047" y="105" width="1" height="1"/><rect x="1049" y="104" width="1" height="1"/><rect x="1051" y="103" width="1" height="1"/><rect x="1053" y="103" width="1" height="1"/><rect x="1055" y="103" width="1" height="1"/><rect x="1057" y="104" width="1" height="1"/><rect x="1059" y="104" width="1" height="1"/><rect x="1061" y="104" width="1" height="1"/><rect x="1063" y="104" width="1" height="1"/><rect x="1065" y="103" width="1" height="1"/><rect x="1067" y="102" width="1" height="1"/><rect x="1069" y="102" width="1" height="1"/><rect x="1071" y="101" width="1" height="1"/><rect x="1073" y="102" width="1" height="1"/><rect x="1075" y="102" width="1" height="1"/><rect x="1077" y="102" width="1" height="1"/><rect x="1079" y="102" width="1" height="1"/><rect x="1081" y="101" width="1" height="1"/><rect x="1083" y="100" width="1" height="1"/><rect x="1085" y="100" width="1" height="1"/><rect x="1087" y="100" width="1" height="1"/><rect x="1089" y="99" width="1" height="1"/><rect x="1091" y="98" width="1" height="1"/><rect x="1093" y="98" width="1" height="1"/><rect x="1095" y="98" width="1" height="1"/><rect x="1097" y="98" width="1" height="1"/><rect x="1099" y="98" width="1" height="1"/><rect x="1101" y="99" width="1" height="1"/><rect x="1103" y="99" width="1" height="1"/><rect x="1105" y="99" width="1" height="1"/><rect x="1107" y="99" width="1" height="1"/><rect x="1109" y="99" width="1" height="1"/><rect x="1111" y="98" width="1" height="1"/><rect x="1113" y="97" width="1" height="1"/><rect x="1115" y="97" width="1" height="1"/><rect x="1117" y="96" width="1" height="1"/><rect x="1119" y="96" width="1" height="1"/><rect x="1121" y="96" width="1" height="1"/><rect x="1123" y="96" width="1" height="1"/><rect x="1125" y="96" width="1" height="1"/><rect x="1127" y="96" width="1" height="1"/><rect x="1129" y="96" width="1" height="1"/><rect x="1131" y="96" width="1" height="1"/><rect x="1133" y="96" width="1" height="1"/><rect x="1135" y="95" width="1" height="1"/><rect x="1137" y="95" width="1" height="1"/><rect x="1139" y="95" width="1" height="1"/><rect x="1141" y="95" width="1" height="1"/><rect x="1143" y="95" width="1" height="1"/><rect x="1145" y="95" width="1" height="1"/><rect x="1147" y="95" width="1" height="1"/><rect x="1149" y="94" width="1" height="1"/><rect x="1151" y="94" width="1" height="1"/><rect x="1153" y="94" width="1" height="1"/><rect x="1155" y="94" width="1" height="1"/><rect x="1157" y="94" width="1" height="1"/><rect x="1159" y="94" width="1" height="1"/><rect x="1161" y="94" width="1" height="1"/><rect x="1163" y="94" width="1" height="1"/><rect x="1165" y="94" width="1" height="1"/><rect x="1167" y="94" width="1" height="1"/><rect x="1169" y="94" width="1" height="1"/><rect x="1171" y="95" width="1" height="1"/><rect x="1173" y="95" width="1" height="1"/><rect x="1175" y="95" width="1" height="1"/><rect x="1177" y="95" width="1" height="1"/><rect x="1179" y="95" width="1" height="1"/><rect x="1181" y="94" width="1" height="1"/><rect x="1183" y="94" width="1" height="1"/><rect x="1185" y="94" width="1" height="1"/><rect x="1187" y="94" width="1" height="1"/><rect x="1189" y="94" width="1" height="1"/><rect x="1191" y="94" width="1" height="1"/><rect x="1193" y="93" width="1" height="1"/><rect x="1195" y="93" width="1" height="1"/><rect x="1197" y="93" width="1" height="1"/><rect x="1199" y="93" width="1" height="1"/><rect x="1201" y="93" width="1" height="1"/><rect x="1203" y="93" width="1" height="1"/><rect x="1205" y="93" width="1" height="1"/><rect x="1207" y="93" width="1" height="1"/><rect x="1209" y="93" width="1" height="1"/><rect x="1211" y="93" width="1" height="1"/><rect x="1213" y="93" width="1" height="1"/><rect x="1215" y="93" width="1" height="1"/><rect x="1217" y="93" width="1" height="1"/><rect x="1219" y="93" width="1" height="1"/><rect x="1221" y="93" width="1" height="1"/><rect x="1223" y="93" width="1" height="1"/><rect x="1225" y="93" width="1" height="1"/><rect x="1227" y="94" width="1" height="1"/><rect x="1229" y="94" width="1" height="1"/><rect x="1231" y="94" width="1" height="1"/><rect x="1233" y="94" width="1" height="1"/><rect x="1235" y="94" width="1" height="1"/><rect x="1237" y="94" width="1" height="1"/><rect x="1239" y="94" width="1" height="1"/><rect x="1241" y="94" width="1" height="1"/></g>
<rect x="176.5" y="28.5" width="1069.0" height="860.0" fill="none" stroke="#000" stroke-width="7"/>
<g fill="#000">
<rect x="305" y="872" width="7" height="16"/>
<rect x="492" y="872" width="7" height="16"/>
<rect x="680" y="872" width="7" height="16"/>
<rect x="867" y="872" width="7" height="16"/>
<rect x="1055" y="872" width="7" height="16"/>
<rect x="211" y="880" width="7" height="8"/>
<rect x="398" y="880" width="7" height="8"/>
<rect x="586" y="880" width="7" height="8"/>
<rect x="773" y="880" width="7" height="8"/>
<rect x="961" y="880" width="7" height="8"/>
<rect x="1148" y="880" width="7" height="8"/>
<rect x="176" y="886" width="18" height="7"/>
<rect x="176" y="729" width="18" height="7"/>
<rect x="176" y="573" width="18" height="7"/>
<rect x="176" y="417" width="18" height="7"/>
<rect x="176" y="260" width="18" height="7"/>
<rect x="176" y="104" width="18" height="7"/>
<rect x="176" y="807" width="10" height="7"/>
<rect x="176" y="651" width="10" height="7"/>
<rect x="176" y="495" width="10" height="7"/>
<rect x="176" y="339" width="10" height="7"/>
<rect x="176" y="182" width="10" height="7"/>
<rect x="176" y="26" width="10" height="7"/>
<rect x="1237" y="26" width="9" height="7"/>
<rect x="1228" y="87" width="18" height="7"/>
<rect x="1237" y="148" width="9" height="7"/>
<rect x="1228" y="210" width="18" height="7"/>
<rect x="1237" y="271" width="9" height="7"/>
<rect x="1228" y="333" width="18" height="7"/>
<rect x="1237" y="394" width="9" height="7"/>
<rect x="1228" y="456" width="18" height="7"/>
<rect x="1237" y="517" width="9" height="7"/>
<rect x="1228" y="578" width="18" height="7"/>
<rect x="1237" y="640" width="9" height="7"/>
<rect x="1228" y="701" width="18" height="7"/>
<rect x="1237" y="763" width="9" height="7"/>
<rect x="1228" y="824" width="18" height="7"/>
</g>
<g font-size="45.5">
<text x="308.6" y="942.0" text-anchor="middle"><tspan fill="transparent">1</tspan>00</text>
<text x="496.1" y="942.0" text-anchor="middle">200</text>
<text x="683.6" y="942.0" text-anchor="middle">300</text>
<text x="871.1" y="942.0" text-anchor="middle">400</text>
<text x="1058.6" y="942.0" text-anchor="middle">500</text>
<text x="1246.1" y="942.0" text-anchor="middle">600</text>
<path transform="translate(276,910)" d="M9.3,0L12,0L12,32L8,32L8,7.8L0,11.8L0,8.2Z"/>
<text x="158.5" y="901.7" text-anchor="end">0</text>
<text x="158.5" y="746.4" text-anchor="end">20</text>
<text x="158.5" y="590.1" text-anchor="end">40</text>
<text x="158.5" y="432.8" text-anchor="end">60</text>
<text x="158.5" y="276.5" text-anchor="end">80</text>
<text x="158.5" y="121.2" text-anchor="end"><tspan fill="transparent">1</tspan>00</text>
<path transform="translate(89,89)" d="M9.3,0L12,0L12,32L8,32L8,7.8L0,11.8L0,8.2Z"/>
<text x="1264.0" y="103.7" text-anchor="start">0</text>
<text x="1264.0" y="226.5" text-anchor="start"><tspan fill="transparent">−</tspan>5</text>
<rect x="1266" y="209" width="21" height="4"/>
<text x="1264.0" y="349.3" text-anchor="start"><tspan fill="transparent">−</tspan><tspan fill="transparent">1</tspan>0</text>
<rect x="1266" y="331" width="21" height="4"/>
<text x="1264.0" y="472.0" text-anchor="start"><tspan fill="transparent">−</tspan><tspan fill="transparent">1</tspan>5</text>
<rect x="1266" y="454" width="21" height="4"/>
<text x="1264.0" y="594.8" text-anchor="start"><tspan fill="transparent">−</tspan>20</text>
<rect x="1266" y="577" width="21" height="4"/>
<text x="1264.0" y="717.6" text-anchor="start"><tspan fill="transparent">−</tspan>25</text>
<rect x="1266" y="700" width="21" height="4"/>
<text x="1264.0" y="840.4" text-anchor="start"><tspan fill="transparent">−</tspan>30</text>
<rect x="1266" y="822" width="21" height="4"/>
<path transform="translate(1295,317)" d="M9.3,0L12,0L12,32L8,32L8,7.8L0,11.8L0,8.2Z"/>
<path transform="translate(1295,440)" d="M9.3,0L12,0L12,32L8,32L8,7.8L0,11.8L0,8.2Z"/>
</g>
<g font-size="53">
<text transform="translate(508,1025.5) scale(1,1.03)">Temperature</text>
<text x="825.4" y="1026">(</text>
<text x="841.7" y="1022.5">°</text>
<text transform="translate(859.2,1026.4) scale(0.94,1.077)">C</text>
<text x="897" y="1026">)</text>
</g>
<text transform="translate(54,458.6) rotate(-90) scale(1,1.03)" font-size="53" text-anchor="middle">Mass (%)</text>
<text transform="translate(1396.8,450.25) rotate(-90) scale(1,1.024)" font-size="53" text-anchor="middle">DTG (%/min)</text>
<rect x="1110" y="46" width="56" height="5" fill="#000"/>
<rect x="1110" y="76" width="56" height="5" fill="#f00"/>
<rect x="1138" y="78" width="1" height="1" fill="#000"/>
<g transform="translate(1181,0) scale(0.706,1)">
<text x="0" y="59" font-size="27" style="font-family:'Liberation Serif',serif">TG</text>
<text x="0" y="89" font-size="27" style="font-family:'Liberation Serif',serif">DTG</text>
</g>
</svg>
</body></html>
